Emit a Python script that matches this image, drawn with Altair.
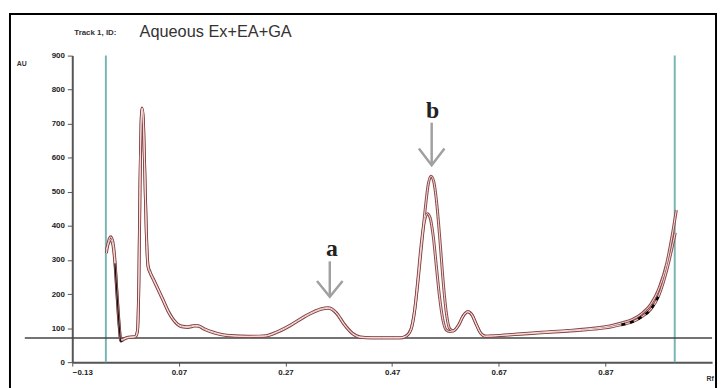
import altair as alt
import pandas as pd

# ---- data ----
rf_outer = [-0.066, -0.062, -0.058, -0.054, -0.050, -0.046, -0.042, -0.039, -0.034, -0.028, -0.020, -0.012,
            -0.008, -0.005, -0.003, -0.001, 0.001, 0.003, 0.006, 0.009, 0.012, 0.016, 0.022, 0.031, 0.040,
            0.050, 0.060, 0.075, 0.087, 0.100, 0.107, 0.118, 0.135, 0.160, 0.200, 0.230, 0.255, 0.280, 0.305,
            0.325, 0.337, 0.350, 0.365, 0.380, 0.395, 0.410, 0.430, 0.450, 0.470, 0.485, 0.495, 0.505, 0.512,
            0.518, 0.525, 0.532, 0.538, 0.543, 0.548, 0.554, 0.560, 0.566, 0.572, 0.578, 0.585, 0.595, 0.603,
            0.612, 0.620, 0.628, 0.636, 0.645, 0.660, 0.700, 0.750, 0.800, 0.850, 0.880, 0.900, 0.920, 0.940,
            0.955, 0.970, 0.985, 0.995, 1.003]
au_outer = [320, 355, 368, 355, 300, 200, 110, 65, 68, 72, 74, 75,
            90, 250, 520, 700, 746, 720, 560, 380, 285, 265, 245, 215, 185,
            150, 125, 106, 104, 108, 107, 98, 88, 79, 76, 77, 90, 110, 134,
            150, 157, 160, 146, 112, 86, 74, 72, 72, 72, 72, 76, 95, 150,
            230, 340, 450, 525, 546, 530, 460, 350, 230, 140, 98, 92, 110, 135,
            148, 138, 110, 85, 76, 77, 82, 88, 93, 100, 107, 115, 125, 145,
            170, 215, 290, 370, 447]

rf_inner = [-0.066, -0.062, -0.058, -0.054, -0.050, -0.046, -0.042, -0.039, -0.034, -0.028, -0.020, -0.012,
            -0.008, -0.005, -0.003, -0.001, 0.001, 0.003, 0.006, 0.009, 0.012, 0.016, 0.022, 0.031, 0.040,
            0.050, 0.060, 0.075, 0.087, 0.100, 0.107, 0.118, 0.135, 0.160, 0.200, 0.230, 0.255, 0.280, 0.305,
            0.325, 0.337, 0.350, 0.365, 0.380, 0.395, 0.410, 0.430, 0.450, 0.470, 0.485, 0.495, 0.505, 0.512,
            0.518, 0.524, 0.530, 0.536, 0.541, 0.547, 0.553, 0.559, 0.565, 0.571, 0.578, 0.585, 0.595, 0.603,
            0.612, 0.620, 0.628, 0.636, 0.645, 0.660, 0.700, 0.750, 0.800, 0.850, 0.880, 0.900, 0.920, 0.940,
            0.955, 0.970, 0.985, 1.001]
au_inner = [330, 350, 360, 345, 290, 195, 105, 62, 66, 71, 73, 74,
            88, 245, 515, 695, 742, 715, 555, 375, 280, 262, 242, 212, 182,
            148, 123, 104, 102, 106, 105, 96, 86, 78, 75, 76, 88, 108, 132,
            148, 155, 158, 144, 110, 84, 73, 71, 71, 71, 71, 75, 95, 150,
            240, 340, 410, 436, 425, 370, 280, 190, 125, 95, 90, 92, 110, 135,
            148, 138, 110, 85, 76, 77, 81, 86, 91, 97, 103, 110, 118, 135,
            155, 195, 270, 380]

# black integration marks drawn over parts of the traces
rf_mark_start = [-0.050, -0.046, -0.042, -0.039, -0.036]
au_mark_start = [290, 195, 105, 60, 62]
rf_mark_tail = [0.900, 0.920, 0.940, 0.955, 0.970]
au_mark_tail = [110, 118, 135, 155, 195]

x_ticks = [-0.13, 0.07, 0.27, 0.47, 0.67, 0.87]
y_ticks = [0, 100, 200, 300, 400, 500, 600, 700, 800, 900]
boundary_rf = [-0.067, 1.0]
baseline_au = 71

ann_labels = ["a", "b"]
ann_rf = [0.357, 0.546]
ann_au = [331, 737]
arrow_rf = [0.353, 0.5441]
arrow_top = [296, 703]
arrow_bottom = [192, 578]
head_half = [0.024, 0.024]
head_au = [238, 627]

# ---- tables ----
rows = []
for name, rfs, aus in (("outer", rf_outer, au_outer), ("inner", rf_inner, au_inner)):
    for i, (r, a) in enumerate(zip(rfs, aus)):
        rows.append({"trace": name, "idx": i, "rf": r, "au": a})
df = pd.DataFrame(rows)

mrows = []
for name, rfs, aus in (("start", rf_mark_start, au_mark_start), ("tail", rf_mark_tail, au_mark_tail)):
    for i, (r, a) in enumerate(zip(rfs, aus)):
        mrows.append({"seg": name, "idx": i, "rf": r, "au": a})
marks_df = pd.DataFrame(mrows)

heads = []
for k in range(len(arrow_rf)):
    heads.append({"arrow": k, "o": 0, "rf": arrow_rf[k] - head_half[k], "au": head_au[k]})
    heads.append({"arrow": k, "o": 1, "rf": arrow_rf[k], "au": arrow_bottom[k]})
    heads.append({"arrow": k, "o": 2, "rf": arrow_rf[k] + head_half[k], "au": head_au[k]})
heads_df = pd.DataFrame(heads)
shafts_df = pd.DataFrame({"rf": arrow_rf, "au": arrow_top, "bot": arrow_bottom})
ann_df = pd.DataFrame({"label": ann_labels, "rf": ann_rf, "au": ann_au})
teal_df = pd.DataFrame({"rf": boundary_rf, "au": [900, 900], "bot": [0, 0]})
one = pd.DataFrame({"k": [0]})

xs = alt.Scale(domain=[-0.13, 1.07], nice=False, zero=False)
ys = alt.Scale(domain=[0, 900], nice=False)

x_axis = alt.Axis(values=x_ticks, format=".2f", labelFontSize=8, labelColor="#222", tickSize=4,
                  tickColor="#555", domainColor="#555", domainWidth=2, grid=False, title=None,
                  labelPadding=2, labelFont="Liberation Sans", labelFontWeight="bold")
y_axis = alt.Axis(values=y_ticks, labelFontSize=8, labelColor="#222", tickSize=5, tickColor="#555",
                  domainColor="#555", domainWidth=2, grid=False, title=None, labelPadding=3,
                  labelFont="Liberation Sans", labelFontWeight="bold")

X = alt.X("rf:Q", scale=xs, axis=x_axis)
Y = alt.Y("au:Q", scale=ys, axis=y_axis)

frame = alt.Chart(one).mark_rect(fillOpacity=0, stroke="black", strokeWidth=2).encode(
    x=alt.value(-63), x2=alt.value(651), y=alt.value(-42), y2=alt.value(400))

teal = alt.Chart(teal_df).mark_rule(color="#7ab5b5", strokeWidth=2).encode(x=X, y=Y, y2="bot:Q")

baseline = alt.Chart(one).mark_rule(color="#444", strokeWidth=1.6).encode(
    y=alt.YDatum(baseline_au, scale=ys, axis=y_axis), x=alt.value(-48), x2=alt.value(647))

curve_dark = alt.Chart(df).mark_line(color="#8e4848", strokeWidth=3, interpolate="monotone").encode(
    x=X, y=Y, detail="trace:N", order="idx:Q")
curve_light = alt.Chart(df).mark_line(color="#f2e2e2", strokeWidth=1, interpolate="monotone").encode(
    x=X, y=Y, detail="trace:N", order="idx:Q")

black_start = alt.Chart(marks_df).transform_filter(alt.datum.seg == "start").mark_line(
    color="#111", strokeWidth=1.3, interpolate="monotone").encode(x=X, y=Y, order="idx:Q")
black_tail = alt.Chart(marks_df).transform_filter(alt.datum.seg == "tail").mark_line(
    color="black", strokeWidth=2.5, strokeDash=[4, 5], interpolate="monotone").encode(x=X, y=Y, order="idx:Q")

shafts = alt.Chart(shafts_df).mark_rule(color="#a0a0a0", strokeWidth=2.5).encode(x=X, y=Y, y2="bot:Q")
arrowheads = alt.Chart(heads_df).mark_line(color="#a0a0a0", strokeWidth=2.5).encode(
    x=X, y=Y, detail="arrow:N", order="o:Q")
letters = alt.Chart(ann_df).mark_text(font="Liberation Serif", fontWeight="bold", fontSize=24,
                                      color="#222").encode(x=X, y=Y, text="label:N")

title_small = alt.Chart(one).mark_text(text="Track 1, ID:", fontSize=8, fontWeight="bold", align="left",
                                       baseline="middle", color="#333", font="Liberation Sans").encode(
    x=alt.value(2), y=alt.value(-23))
title_big = alt.Chart(one).mark_text(text="Aqueous Ex+EA+GA", fontSize=16.5, align="left", baseline="middle",
                                     color="#333", font="Liberation Sans").encode(
    x=alt.value(68), y=alt.value(-24))
au_lbl = alt.Chart(one).mark_text(text="AU", fontSize=7, fontWeight="bold", color="#333",
                                  font="Liberation Sans").encode(x=alt.value(-51), y=alt.value(9))
rf_lbl = alt.Chart(one).mark_text(text="Rf", fontSize=7, fontWeight="bold", color="#333",
                                  font="Liberation Sans").encode(x=alt.value(645), y=alt.value(327))

chart = alt.layer(frame, teal, baseline, curve_dark, curve_light, black_start, black_tail, shafts,
                  arrowheads, letters, title_small, title_big, au_lbl, rf_lbl).properties(
    width=647, height=310,
    autosize=alt.AutoSizeParams(type="none"),
    padding={"left": 65, "top": 46, "right": 6, "bottom": 24},
    background="white",
).configure_view(stroke=None)

chart.save("out.html", embed_options={"renderer": "svg", "actions": False})
